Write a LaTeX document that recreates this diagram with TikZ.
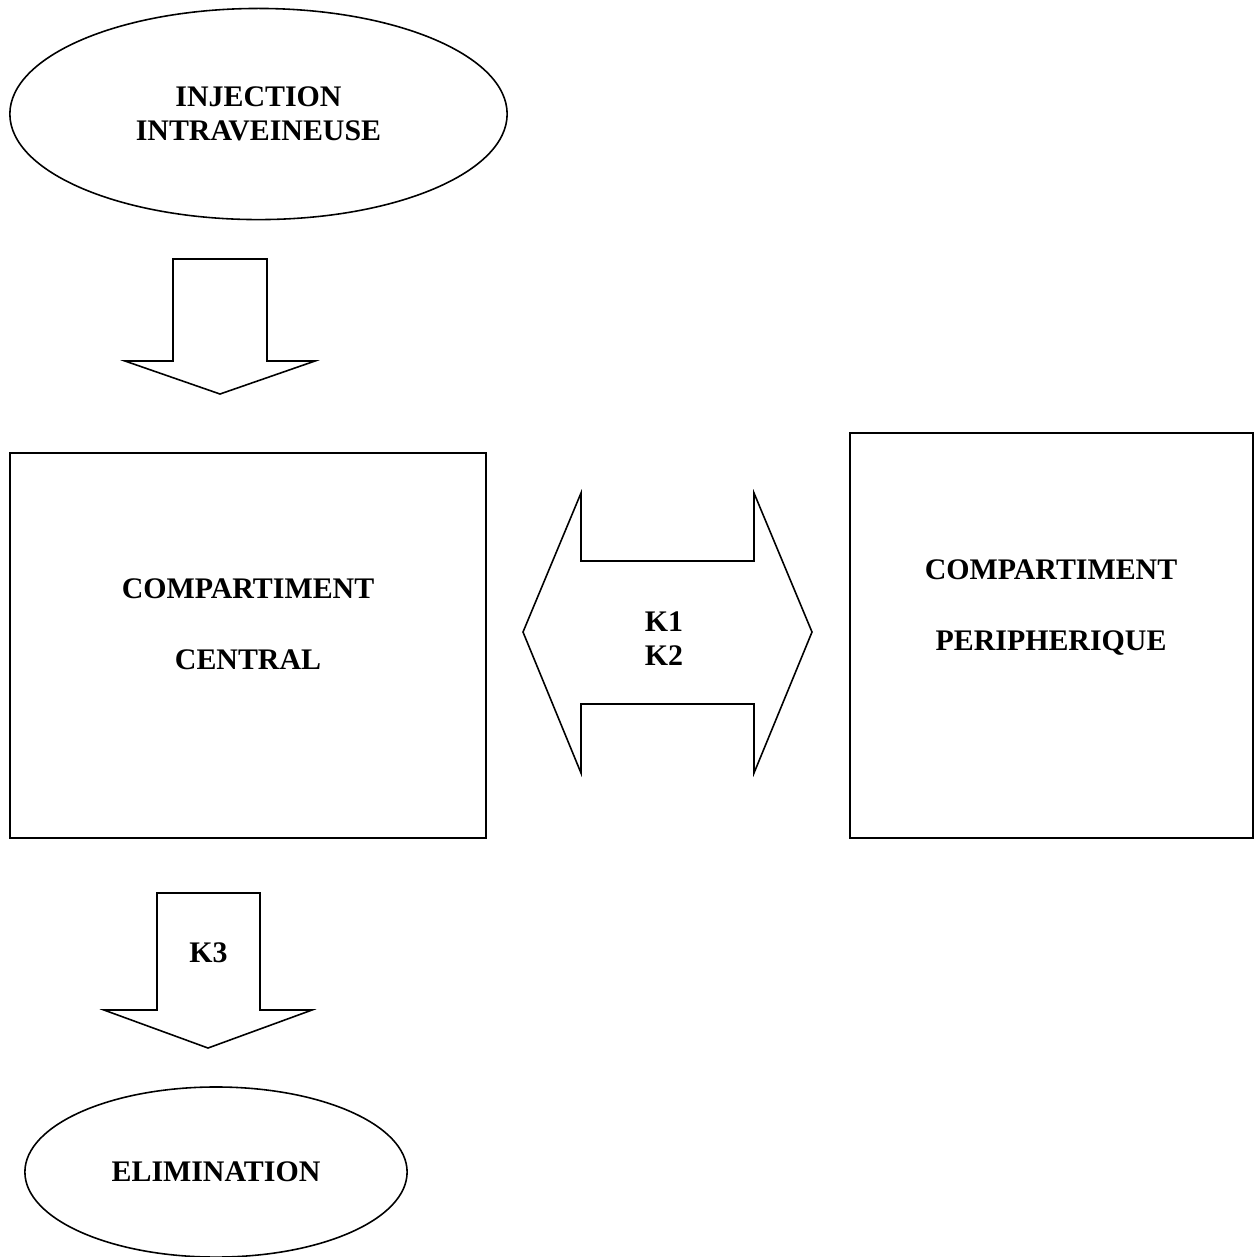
\documentclass[tikz,border=0pt]{standalone}
\usepackage{fontspec}
\setmainfont{Liberation Serif}
\usetikzlibrary{shapes.geometric}

\begin{document}
\begin{tikzpicture}[x=0.01cm, y=-0.01cm,
		  every node/.style={font=\bfseries\fontsize{8.5}{9.7}\selectfont, align=center},
		  source/.style={draw, ellipse, line width=0.45pt, inner sep=0pt},
		  compart/.style={draw, rectangle, line width=0.45pt, inner sep=0pt},
		  bigarrow/.style={draw, line width=0.45pt, line join=miter},
		  widetxt/.style={font=\bfseries\fontsize{8.5}{20.3}\selectfont}]
		  \useasboundingbox (0,0) rectangle (1258,1256) ; %

		  \node[source, minimum width=4.97cm, minimum height=2.11cm] (inj) at (258.5,114) {INJECTION\\INTRAVEINEUSE} ; %
		  \node[compart, minimum width=4.76cm, minimum height=3.85cm] (central) at (248,645.5) {} ; %
		  \node[compart, minimum width=4.03cm, minimum height=4.05cm] (periph) at (1051.5,635.5) {} ; %
		  \node[source, minimum width=3.82cm, minimum height=1.70cm] (elim) at (216,1172) {ELIMINATION} ; %

		  \node[widetxt] (central-txt) at (central.center) [yshift=0.215cm] {COMPARTIMENT\\CENTRAL} ; %
		  \node[widetxt] (periph-txt) at (1051,607.5) {COMPARTIMENT\\PERIPHERIQUE} ; %

		  % injection -> central
		  \draw[bigarrow] (173,259) -- (267,259) -- (267,361) -- (315,361) -- (220,394)
		    -- (125,361) -- (173,361) -- cycle ; %

		  % exchange central <-> peripheral
		  \draw[bigarrow] (523,632) -- (581,493) -- (581,561) -- (754,561) -- (754,493)
		    -- (812,632) -- (754,773) -- (754,704) -- (581,704) -- (581,773) -- cycle ; %
		  \node (k12) at (664,639) {K1\\K2} ; %

		  % central -> elimination
		  \draw[bigarrow] (157,893) -- (260,893) -- (260,1010) -- (312,1010) -- (208,1048)
		    -- (104,1010) -- (157,1010) -- cycle ; %
		  \node (k3) at (208.5,953) {K3} ; %
		\end{tikzpicture}
\end{document}
